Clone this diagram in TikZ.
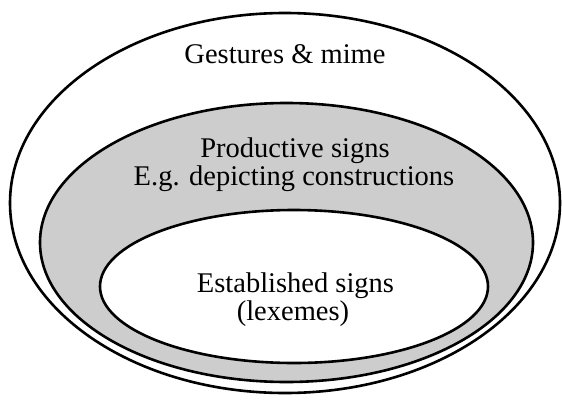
\documentclass[tikz,border=0pt]{standalone}
\usepackage{fontspec}
\setmainfont{Liberation Serif}
\usetikzlibrary{shapes.geometric}
\definecolor{bandgray}{RGB}{205,205,205}
\tikzset{
  ring/.style={ellipse, draw=black, line width=2.6pt, inner sep=0pt, outer sep=0pt},
  label/.style={anchor=base, inner sep=0pt, font=\fontsize{28.5}{29}\selectfont}
}
\begin{document}
\begin{tikzpicture}[x=1pt,y=-1pt]
\useasboundingbox (0,0) rectangle (562,399);
\node[ring, fill=white, minimum width=550pt, minimum height=380pt] (outer) at (285,203) {};
\node[ring, fill=bandgray, minimum width=493pt, minimum height=279pt] (middle) at (286.5,242.5) {};
\node[ring, fill=white, minimum width=388pt, minimum height=153pt] (inner) at (294,286.5) {};
\node[label] (gest) at (285,63) {Gestures \& mime};
\node[label] (prod1) at (295,157) {Productive signs};
\node[label] (prod2) at (294,185) {E.g. depicting constructions};
\node[label] (est1) at (295.5,292) {Established signs};
\node[label] (est2) at (293,320) {(lexemes)};
\end{tikzpicture}
\end{document}
